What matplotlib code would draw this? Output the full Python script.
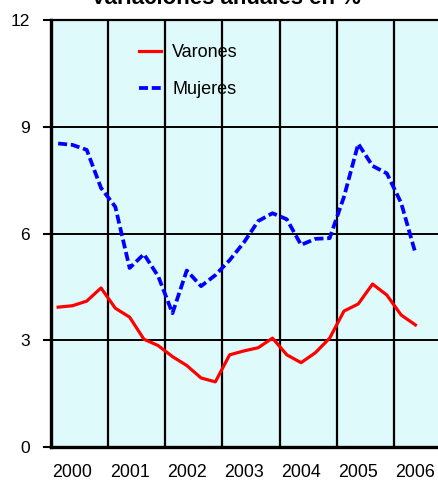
import numpy as np
import matplotlib
matplotlib.use("Agg")
import matplotlib.pyplot as plt

plt.rcParams['font.family'] = ['Liberation Sans', 'DejaVu Sans']

years = ['2000', '2001', '2002', '2003', '2004', '2005', '2006']
varones = [3.93, 3.97, 4.10, 4.47,
           3.90, 3.65, 3.03, 2.85,
           2.54, 2.29, 1.94, 1.83,
           2.59, 2.70, 2.79, 3.06,
           2.59, 2.37, 2.65, 3.06,
           3.82, 4.02, 4.58, 4.27,
           3.71, 3.43]
mujeres = [8.53, 8.49, 8.35, 7.28,
           6.75, 5.03, 5.42, 4.80,
           3.76, 4.96, 4.52, 4.83,
           5.25, 5.75, 6.35, 6.57,
           6.40, 5.68, 5.85, 5.87,
           7.03, 8.52, 7.90, 7.69,
           6.86, 5.45]
series_names = ['Varones', 'Mujeres']
title = 'Variaciones anuales en %'

fig = plt.figure(figsize=(4.39, 4.80), dpi=100)
ax = fig.add_axes([51/439, 33/480, 388/439, 427/480])
ax.set_facecolor('#DFFAFA')

x = np.arange(len(varones)) + 0.5
ax.plot(x, varones, color='#FF0000', lw=2.3, label=series_names[0], zorder=3)
ax.plot(x, mujeres, color='#0000FF', lw=2.7, dashes=(2.4, 1.0),
        label=series_names[1], zorder=3)

ax.set_xlim(0, 27.15)
ax.set_ylim(0, 12)
ax.set_yticks([0, 3, 6, 9, 12])
ax.set_xticks(np.arange(len(years)) * 4 + 1.5)
ax.set_xticklabels(years)
ax.set_xticks(np.arange(len(years)) * 4, minor=True)

ax.tick_params(axis='x', which='both', length=0, pad=12, labelsize=12.8)
ax.tick_params(axis='y', which='major', length=6, width=1.5, pad=9, labelsize=12.5)

ax.grid(True, axis='y', which='major', color='black', lw=1.4, zorder=1)
ax.grid(True, axis='x', which='minor', color='black', lw=1.6, zorder=1)
ax.grid(False, axis='x', which='major')
ax.set_axisbelow(True)

ax.spines['right'].set_visible(False)
ax.spines['left'].set_linewidth(2.4)
ax.spines['bottom'].set_linewidth(2.4)
ax.spines['top'].set_linewidth(1.6)

leg = ax.legend(loc='center left', bbox_to_anchor=((139-51)/388, (447-71)/427),
                frameon=False, fontsize=13, handlelength=1.2, handletextpad=0.65,
                labelspacing=1.1, borderpad=0, borderaxespad=0)

fig.text(226/439, 1 - 4/480, title, ha='center', va='baseline',
         fontsize=16, fontweight='bold')

fig.savefig('out.png', dpi=100)
